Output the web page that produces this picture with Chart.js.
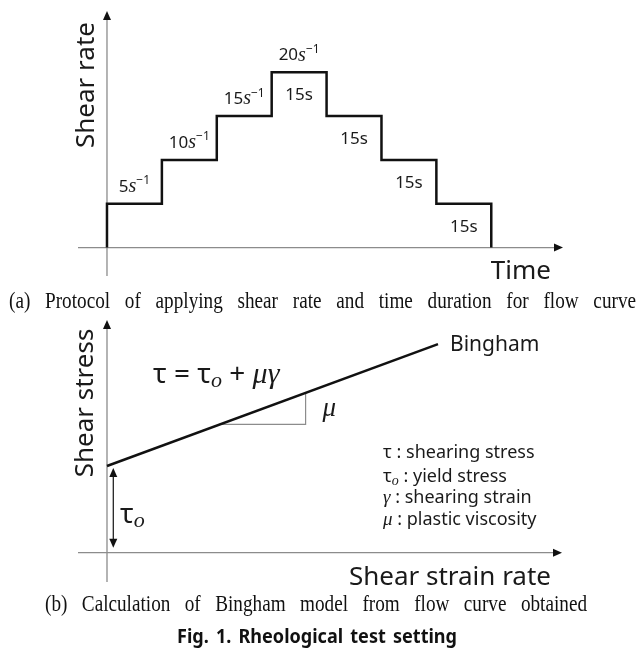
<!DOCTYPE html>
<html>
<head>
<meta charset="utf-8">
<title>Rheological test setting</title>
<script src="https://cdn.jsdelivr.net/npm/chart.js"></script>
<style>
  body { margin: 0; background: #fff; }
  #wrap { position: relative; width: 643px; height: 654px; }
  canvas { position: absolute; left: 0; }
  #rate-chart { top: 0; }
  #stress-chart { top: 318px; }
</style>
</head>
<body>
<div id="wrap">
  <canvas id="rate-chart" width="643" height="318"></canvas>
  <canvas id="stress-chart" width="643" height="336"></canvas>
</div>
<script>
// (a) shear rate protocol
const gTime = [0, 0, 15, 30, 45, 60, 75, 90, 105];
const gShearRate = [0, 5, 10, 15, 20, 15, 10, 5, 0];
const gRateLabels = ['5', '10', '15', '20']; // steps 1..4
const gDurationLabels = ['15s', '15s', '15s', '15s']; // steps 4..7

// (b) Bingham model
const gStrainRate = [0, 100];
const gShearStress = [20, 48.1];
const gSlopeX = [34, 60, 60];
const gSlopeY = [29.6, 29.6, 36.9];
const gLegendTexts = ['shearing stress', 'yield stress', 'shearing strain', 'plastic viscosity'];

// captions
const gCaptionA = '(a) Protocol of applying shear rate and time duration for flow curve';
const gCaptionB = '(b) Calculation of Bingham model from flow curve obtained';
const gFigTitle = 'Fig. 1. Rheological test setting';

const G_SANS = '"Noto Sans"';
const G_SERIF = '"Liberation Serif"';
const G_TEXT = '#1a1a1a';

// draw text made of several pieces
function drawRich(pCtx, pParts, pX, pY, pAlign) {
  let vWidth = 0;
  pParts.forEach((p) => {
    pCtx.font = p[1];
    vWidth += pCtx.measureText(p[0]).width;
  });
  let vX = pX;
  if (pAlign == 'center') vX = pX - vWidth / 2;
  if (pAlign == 'right') vX = pX - vWidth;
  pCtx.textAlign = 'left';
  pParts.forEach((p) => {
    pCtx.font = p[1];
    pCtx.fillText(p[0], vX, pY + (p[2] || 0));
    vX += pCtx.measureText(p[0]).width;
  });
}

// draw justified caption
function drawJustified(pCtx, pText, pX0, pX1, pY, pFont, pSqueeze) {
  pCtx.font = pFont;
  pCtx.textAlign = 'left';
  pCtx.textBaseline = 'alphabetic';
  let vWords = pText.split(' ');
  let vWidths = vWords.map((w) => pCtx.measureText(w).width * pSqueeze);
  let vTotal = vWidths.reduce((a, b) => a + b, 0);
  let vGap = (pX1 - pX0 - vTotal) / (vWords.length - 1);
  let vX = pX0;
  vWords.forEach((w, i) => {
    pCtx.save();
    pCtx.translate(vX, pY);
    pCtx.scale(pSqueeze, 1);
    pCtx.fillText(w, 0, 0);
    pCtx.restore();
    vX += vWidths[i] + vGap;
  });
}

// arrow head, tip at (x, y)
function drawArrowHead(pCtx, pX, pY, pAngle) {
  pCtx.save();
  pCtx.translate(pX, pY);
  pCtx.rotate(pAngle);
  pCtx.beginPath();
  pCtx.moveTo(0, 0);
  pCtx.lineTo(-9, -4);
  pCtx.lineTo(-9, 4);
  pCtx.closePath();
  pCtx.fill();
  pCtx.restore();
}

// vertical axis title
function drawVerticalTitle(pCtx, pText, pX, pY) {
  pCtx.save();
  pCtx.translate(pX, pY);
  pCtx.rotate(-Math.PI / 2);
  pCtx.font = `26px ${G_SANS}`;
  pCtx.textAlign = 'center';
  pCtx.textBaseline = 'alphabetic';
  pCtx.fillText(pText, 0, 0);
  pCtx.restore();
}

// axes through the origin
const axesPlugin = {
  id: 'axes',
  beforeDatasetsDraw(chart) {
    const { ctx, chartArea, scales } = chart;
    let vX0 = scales.x.getPixelForValue(0);
    let vY0 = scales.y.getPixelForValue(0);
    ctx.save();
    ctx.strokeStyle = '#8c8c8c';
    ctx.lineWidth = 1.3;
    ctx.beginPath();
    ctx.moveTo(chartArea.left, vY0);
    ctx.lineTo(chartArea.right - 6, vY0);
    ctx.moveTo(vX0, chartArea.bottom);
    ctx.lineTo(vX0, chartArea.top + 6);
    ctx.stroke();
    ctx.fillStyle = '#111';
    drawArrowHead(ctx, chartArea.right, vY0, 0);
    drawArrowHead(ctx, vX0, chartArea.top, -Math.PI / 2);
    ctx.restore();
  },
};

// labels of the shear rate chart
const rateTextPlugin = {
  id: 'rateText',
  afterDraw(chart) {
    const { ctx, scales } = chart;
    ctx.save();
    ctx.fillStyle = G_TEXT;
    ctx.textBaseline = 'middle';
    // rising steps
    gRateLabels.forEach((label, i) => {
      let vIdx = i + 1;
      let vX = scales.x.getPixelForValue((gTime[vIdx] + gTime[vIdx + 1]) / 2);
      let vY = scales.y.getPixelForValue(gShearRate[vIdx]) - 17;
      drawRich(ctx, [
        [label, `17px ${G_SANS}`],
        ['s', `italic 20px ${G_SERIF}`],
        ['\u22121', `12px ${G_SANS}`, -6],
      ], vX, vY, 'center');
    });
    // durations
    gDurationLabels.forEach((label, i) => {
      let vIdx = i + 4;
      let vX = scales.x.getPixelForValue((gTime[vIdx] + gTime[vIdx + 1]) / 2);
      let vY = scales.y.getPixelForValue(gShearRate[vIdx]) + 23;
      drawRich(ctx, [[label, `17px ${G_SANS}`]], vX, vY, 'center');
    });
    drawVerticalTitle(ctx, 'Shear rate', 94, 85);
    ctx.font = `26px ${G_SANS}`;
    ctx.textAlign = 'right';
    ctx.textBaseline = 'alphabetic';
    ctx.fillText('Time', 551, 279);
    ctx.fillStyle = '#111';
    drawJustified(ctx, gCaptionA, 9, 636, 308, `24px ${G_SERIF}`, 0.8);
    ctx.restore();
  },
};

// labels of the Bingham chart
const stressTextPlugin = {
  id: 'stressText',
  afterDraw(chart) {
    const { ctx, scales } = chart;
    let vLast = gStrainRate.length - 1;
    let vEndX = scales.x.getPixelForValue(gStrainRate[vLast]);
    let vEndY = scales.y.getPixelForValue(gShearStress[vLast]);
    let vStartY = scales.y.getPixelForValue(gShearStress[0]);
    let vY0 = scales.y.getPixelForValue(0);
    let vArrowX = scales.x.getPixelForValue(1.9);
    ctx.save();
    ctx.fillStyle = G_TEXT;
    ctx.textBaseline = 'middle';

    drawRich(ctx, [['Bingham', `21px ${G_SANS}`]], vEndX + 12, vEndY + 1, 'left');

    // equation
    drawRich(ctx, [
      ['\u03c4 = \u03c4', `28px ${G_SANS}`],
      ['o', `italic 22px ${G_SERIF}`, 6],
      [' + ', `28px ${G_SANS}`],
      ['\u03bc\u03b3', `italic 30px ${G_SERIF}`],
    ], 153, 57, 'left');

    // slope label
    let vSlopeX = scales.x.getPixelForValue(gSlopeX[1]);
    let vSlopeY = scales.y.getPixelForValue(gSlopeY[0]);
    drawRich(ctx, [['\u03bc', `italic 27px ${G_SERIF}`]], vSlopeX + 17, vSlopeY - 15, 'left');

    // yield stress arrow
    ctx.strokeStyle = '#111';
    ctx.lineWidth = 1.2;
    ctx.beginPath();
    ctx.moveTo(vArrowX, vStartY + 8);
    ctx.lineTo(vArrowX, vY0 - 12);
    ctx.stroke();
    ctx.fillStyle = '#111';
    drawArrowHead(ctx, vArrowX, vStartY + 2, -Math.PI / 2);
    drawArrowHead(ctx, vArrowX, vY0 - 5, Math.PI / 2);
    ctx.fillStyle = G_TEXT;
    drawRich(ctx, [
      ['\u03c4', `28px ${G_SANS}`],
      ['o', `italic 22px ${G_SERIF}`, 6],
    ], 120, 197, 'left');

    // symbol legend
    let vSymbols = [
      [['\u03c4', `18px ${G_SANS}`]],
      [['\u03c4', `18px ${G_SANS}`], ['o', `italic 14px ${G_SERIF}`, 4]],
      [['\u03b3', `italic 19px ${G_SERIF}`]],
      [['\u03bc', `italic 19px ${G_SERIF}`]],
    ];
    let vRowY = [135, 159, 180, 202];
    gLegendTexts.forEach((text, i) => {
      drawRich(ctx, vSymbols[i].concat([[' : ' + text, `18px ${G_SANS}`]]), 383, vRowY[i], 'left');
    });

    drawVerticalTitle(ctx, 'Shear stress', 93, 85);
    ctx.font = `26px ${G_SANS}`;
    ctx.textAlign = 'right';
    ctx.textBaseline = 'alphabetic';
    ctx.fillText('Shear strain rate', 551, 267);

    ctx.fillStyle = '#111';
    drawJustified(ctx, gCaptionB, 45, 587, 293, `24px ${G_SERIF}`, 0.8);
    drawJustified(ctx, gFigTitle, 177, 457, 325, `bold 19px ${G_SANS}`, 0.95);
    ctx.restore();
  },
};

function baseOptions(pPadding, pX, pY) {
  return {
    responsive: false,
    animation: false,
    events: [],
    layout: { padding: pPadding },
    plugins: { legend: { display: false }, tooltip: { enabled: false } },
    scales: {
      x: { type: 'linear', display: false, min: pX[0], max: pX[1] },
      y: { type: 'linear', display: false, min: pY[0], max: pY[1] },
    },
  };
}

// (a) chart
new Chart(document.getElementById('rate-chart').getContext('2d'), {
  type: 'line',
  data: {
    datasets: [
      {
        data: gTime.map((t, i) => ({ x: t, y: gShearRate[i] })),
        stepped: true,
        borderColor: '#111',
        borderWidth: 2.5,
        pointRadius: 0,
        fill: false,
        clip: false,
      },
    ],
  },
  options: baseOptions({ left: 78, right: 80, top: 11, bottom: 42 }, [-7.92, 124.6], [-3.25, 27.0]),
  plugins: [axesPlugin, rateTextPlugin],
});

// (b) chart
new Chart(document.getElementById('stress-chart').getContext('2d'), {
  type: 'line',
  data: {
    datasets: [
      {
        data: gStrainRate.map((x, i) => ({ x: x, y: gShearStress[i] })),
        borderColor: '#111',
        borderWidth: 2.5,
        pointRadius: 0,
        fill: false,
        clip: false,
      },
      {
        data: gSlopeX.map((x, i) => ({ x: x, y: gSlopeY[i] })),
        borderColor: '#8c8c8c',
        borderWidth: 1.2,
        pointRadius: 0,
        fill: false,
        clip: false,
      },
    ],
  },
  options: baseOptions({ left: 78, right: 81, top: 2, bottom: 72 }, [-8.76, 137.46], [-6.76, 53.68]),
  plugins: [axesPlugin, stressTextPlugin],
});
</script>
</body>
</html>
